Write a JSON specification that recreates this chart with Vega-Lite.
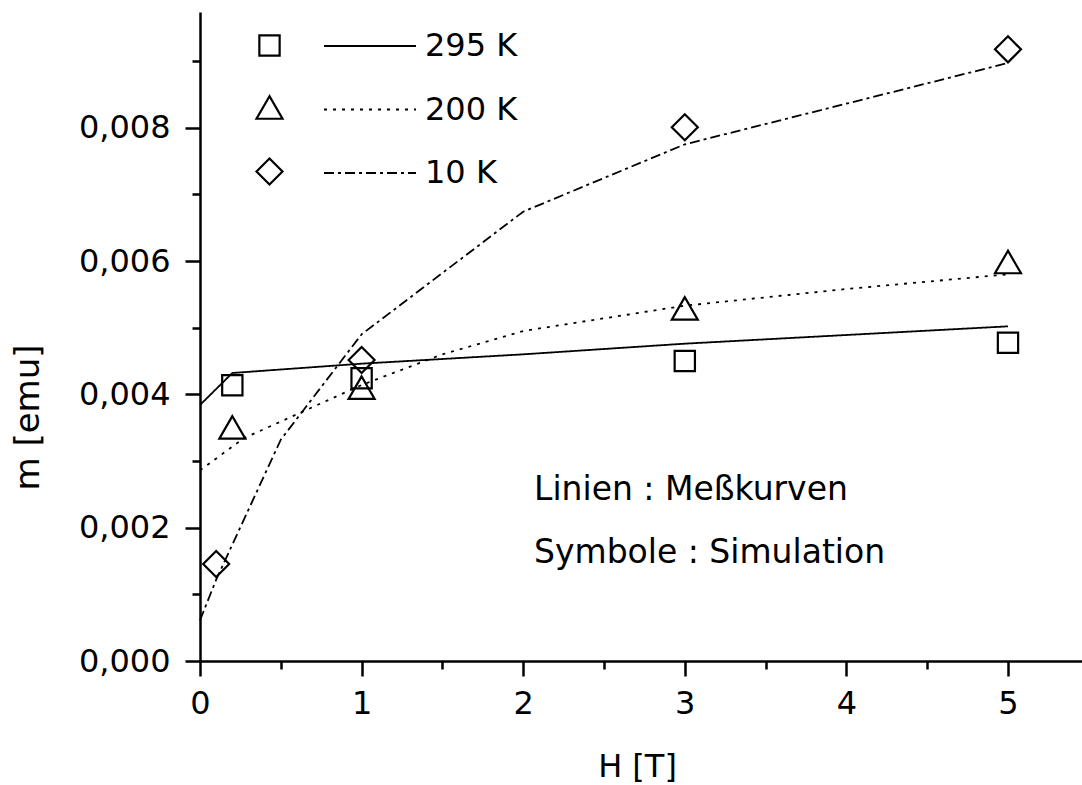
{
  "$schema": "https://vega.github.io/schema/vega-lite/v6.json",
  "width": 882,
  "height": 649,
  "autosize": {"type": "none"},
  "padding": {"left": 200, "top": 12, "right": 0, "bottom": 124},
  "background": "white",
  "config": {
    "view": {"stroke": null},
    "font": "DejaVu Sans",
    "axis": {
      "grid": false,
      "domainColor": "black",
      "domainWidth": 2.5,
      "tickColor": "black",
      "tickWidth": 2.5,
      "labelColor": "black",
      "labelFont": "DejaVu Sans",
      "labelFontSize": 32,
      "titleFont": "DejaVu Sans",
      "titleFontSize": 32,
      "titleFontWeight": "normal",
      "titleColor": "black"
    }
  },
  "datasets": {
    "curves": [
      {"H": 0, "m": 0.00384, "T": "295 K"},
      {"H": 0.2, "m": 0.00432, "T": "295 K"},
      {"H": 1, "m": 0.00446, "T": "295 K"},
      {"H": 2, "m": 0.0046, "T": "295 K"},
      {"H": 3, "m": 0.00476, "T": "295 K"},
      {"H": 4, "m": 0.00489, "T": "295 K"},
      {"H": 5, "m": 0.00502, "T": "295 K"},
      {"H": 0, "m": 0.00286, "T": "200 K"},
      {"H": 0.27, "m": 0.00334, "T": "200 K"},
      {"H": 1, "m": 0.00414, "T": "200 K"},
      {"H": 1.5, "m": 0.0046, "T": "200 K"},
      {"H": 2, "m": 0.00495, "T": "200 K"},
      {"H": 3, "m": 0.00533, "T": "200 K"},
      {"H": 4, "m": 0.00558, "T": "200 K"},
      {"H": 5, "m": 0.0058, "T": "200 K"},
      {"H": 0, "m": 0.00061, "T": "10 K"},
      {"H": 0.1, "m": 0.00122, "T": "10 K"},
      {"H": 0.5, "m": 0.00332, "T": "10 K"},
      {"H": 1, "m": 0.0049, "T": "10 K"},
      {"H": 2, "m": 0.00674, "T": "10 K"},
      {"H": 3, "m": 0.00775, "T": "10 K"},
      {"H": 5, "m": 0.00897, "T": "10 K"}
    ],
    "sims": [
      {"H": 0.2, "m": 0.004135, "Tsim": "295 K"},
      {"H": 1, "m": 0.00424, "Tsim": "295 K"},
      {"H": 3, "m": 0.0045, "Tsim": "295 K"},
      {"H": 5, "m": 0.004775, "Tsim": "295 K"},
      {"H": 0.2, "m": 0.003505, "Tsim": "200 K"},
      {"H": 1, "m": 0.0041, "Tsim": "200 K"},
      {"H": 3, "m": 0.00529, "Tsim": "200 K"},
      {"H": 5, "m": 0.005985, "Tsim": "200 K"},
      {"H": 0.1, "m": 0.001455, "Tsim": "10 K"},
      {"H": 1, "m": 0.004515, "Tsim": "10 K"},
      {"H": 3, "m": 0.008006, "Tsim": "10 K"},
      {"H": 5, "m": 0.009175, "Tsim": "10 K"}
    ]
  },
  "layer": [
    {
      "data": {"name": "curves"},
      "mark": {"type": "line", "color": "black", "strokeWidth": 1.8},
      "encoding": {
        "x": {
          "field": "H",
          "type": "quantitative",
          "scale": {"domain": [0, 5.458], "nice": false, "zero": false},
          "axis": {
            "title": "H [T]",
            "values": [0, 0.5, 1, 1.5, 2, 2.5, 3, 3.5, 4, 4.5, 5],
            "labelExpr": "datum.value % 1 === 0 ? format(datum.value, 'd') : ''",
            "tickSize": {"condition": {"test": "datum.value % 1 !== 0", "value": 8}, "value": 15},
            "labelPadding": 12,
            "labelFlush": false,
            "labelOverlap": false,
            "titleX": 437,
            "titleY": 105,
            "titleBaseline": "middle"
          }
        },
        "y": {
          "field": "m",
          "type": "quantitative",
          "scale": {"domain": [0, 0.009735], "nice": false, "zero": false},
          "axis": {
            "title": "m [emu]",
            "values": [0, 0.001, 0.002, 0.003, 0.004, 0.005, 0.006, 0.007, 0.008, 0.009],
            "labelExpr": "round(datum.value * 1000) % 2 === 0 ? replace(format(datum.value, '.3f'), '.', ',') : ''",
            "tickSize": {"condition": {"test": "round(datum.value * 1000) % 2 === 1", "value": 8}, "value": 15},
            "labelPadding": 15,
            "labelOverlap": false,
            "labelFlush": false,
            "titleX": -172,
            "titleY": 405,
            "titleAngle": -90,
            "titleBaseline": "middle",
            "titleFontSize": 34
          }
        },
        "strokeDash": {
          "field": "T",
          "type": "nominal",
          "sort": ["295 K", "200 K", "10 K"],
          "scale": {"range": [[1, 0], [3, 6], [10, 4, 3, 4]]},
          "legend": {
            "orient": "none",
            "legendX": 123,
            "legendY": -13,
            "title": null,
            "padding": 0,
            "symbolType": "stroke",
            "symbolSize": 8464,
            "symbolStrokeWidth": 1.8,
            "symbolStrokeColor": "black",
            "symbolOpacity": 1,
            "labelOffset": 8,
            "labelFont": "DejaVu Sans",
            "labelFontSize": 32,
            "labelColor": "black",
            "rowPadding": 0.5
          }
        }
      }
    },
    {
      "data": {"name": "sims"},
      "mark": {"type": "point", "filled": false, "color": "black", "strokeWidth": 2.2, "size": 676, "opacity": 1},
      "encoding": {
        "x": {"field": "H", "type": "quantitative"},
        "y": {"field": "m", "type": "quantitative"},
        "shape": {
          "field": "Tsim",
          "type": "nominal",
          "scale": {"domain": ["295 K", "200 K", "10 K"], "range": ["M-0.78,-0.78L0.78,-0.78L0.78,0.78L-0.78,0.78Z", "triangle-up", "diamond"]},
          "legend": {
            "orient": "none",
            "legendX": 55,
            "legendY": 19,
            "title": null,
            "padding": 0,
            "labelExpr": "''",
            "symbolSize": 676,
            "symbolStrokeWidth": 2.2,
            "symbolStrokeColor": "black",
            "symbolOpacity": 1,
            "rowPadding": 30
          }
        }
      }
    },
    {
      "data": {"values": [{"label": "Linien : Meßkurven"}]},
      "mark": {"type": "text", "align": "left", "baseline": "alphabetic", "font": "DejaVu Sans", "fontSize": 33, "color": "black"},
      "encoding": {
        "x": {"datum": 2.067, "type": "quantitative"},
        "y": {"datum": 0.002415, "type": "quantitative"},
        "text": {"field": "label", "type": "nominal"}
      }
    },
    {
      "data": {"values": [{"label": "Symbole : Simulation"}]},
      "mark": {"type": "text", "align": "left", "baseline": "alphabetic", "font": "DejaVu Sans", "fontSize": 33, "color": "black"},
      "encoding": {
        "x": {"datum": 2.067, "type": "quantitative"},
        "y": {"datum": 0.00147, "type": "quantitative"},
        "text": {"field": "label", "type": "nominal"}
      }
    }
  ]
}
